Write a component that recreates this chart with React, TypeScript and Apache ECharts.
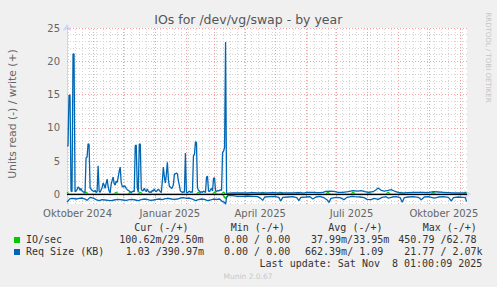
import React, { useEffect, useRef } from "react";
import * as echarts from "echarts";

const DAY = 86400000;
const X_MIN = Date.UTC(2024, 9, 5, 12);
const X_MAX = Date.UTC(2025, 10, 8, 1);
const Y_MIN = -1.45;
const Y_MAX = 25;

const yTickLabels = [0, 5, 10, 15, 20, 25];
const xLabelDates = ["2024-10-16", "2025-01-16", "2025-04-16", "2025-07-16", "2025-10-16"];
const xLabelTexts = ["Oktober 2024", "Januar 2025", "April 2025", "Juli 2025", "Oktober 2025"];

// [day offset from X_MIN, value]
const reqSizeWrite: [number, number][] = [
  [0, 7.3], [1, 7.3], [2, 14.9], [3, 14.9], [4, 0.5], [5, 0.4], [6, 21.1], [7, 21.1], [8, 0.4], [9, 0.5],
  [10, 0.7], [11, 1.1], [12, 1.0], [13, 0.6], [14, 0.9], [15, 0.5], [16, 0.4], [17, 0.3], [18, 0.4], [19, 5.5],
  [20, 5.6], [21, 7.6], [22, 7.5], [23, 1.0], [24, 0.8], [25, 0.6], [26, 0.5], [27, 0.4], [28, 0.6], [29, 0.3],
  [30, 0.4], [31, 4.3], [32, 0.5], [33, 0.3], [34, 0.7], [35, 1.0], [36, 1.7], [37, 1.4], [38, 0.9], [39, 1.7],
  [40, 2.3], [41, 1.1], [42, 0.5], [43, 0.2], [44, 1.5], [45, 2.1], [46, 2.6], [47, 1.6], [48, 1.4], [49, 2.0],
  [50, 1.8], [51, 2.6], [52, 3.4], [53, 4.1], [54, 1.8], [55, 1.2], [56, 1.1], [57, 1.3], [58, 1.2], [59, 0.9],
  [60, 0.7], [61, 0.6], [62, 0.5], [63, 0.4], [64, 0.3], [65, 0.4], [66, 0.5], [67, 0.4], [68, 7.3], [69, 7.4],
  [70, 1.0], [71, 0.3], [72, 7.5], [73, 7.6], [74, 0.8], [75, 0.5], [76, 0.6], [77, 0.9], [78, 0.6], [79, 0.4],
  [80, 0.8], [81, 0.5], [82, 0.3], [83, 0.4], [84, 0.3], [85, 0.6], [86, 0.5], [87, 0.8], [88, 0.5], [89, 0.4],
  [90, 0.6], [91, 0.8], [92, 0.6], [93, 0.4], [94, 0.3], [95, 2.0], [96, 4.1], [97, 2.6], [98, 1.7], [99, 3.0],
  [100, 4.8], [101, 2.3], [102, 1.2], [103, 1.1], [104, 0.9], [105, 1.0], [106, 1.5], [107, 3.0], [108, 3.1], [109, 3.2],
  [110, 3.1], [111, 2.0], [112, 1.3], [113, 0.5], [114, 0.4], [115, 0.3], [116, 0.4], [117, 0.3], [118, 6.2], [119, 0.3],
  [120, 0.2], [121, 0.4], [122, 0.5], [123, 0.3], [124, 0.4], [125, 0.3], [126, 5.8], [127, 6.0], [128, 7.9], [129, 7.8],
  [130, 1.0], [131, 0.6], [132, 0.5], [133, 0.3], [134, 0.4], [135, 0.3], [136, 0.5], [137, 0.4], [138, 0.3], [139, 2.6],
  [140, 2.7], [141, 0.5], [142, 0.4], [143, 0.7], [144, 0.9], [145, 0.5], [146, 2.4], [147, 2.5], [148, 0.5], [149, 0.4],
  [150, 0.6], [151, 0.5], [152, 0.6], [153, 0.7], [154, 0.6], [155, 6.3], [156, 6.5], [157, 7.0], [158, 22.9], [159, 0.15],
  [165, 0.2], [170, 0.2], [175, 0.2], [180, 0.2], [185, 0.25], [190, 0.2], [195, 0.2], [200, 0.2], [205, 0.25], [210, 0.2],
  [215, 0.2], [220, 0.2], [225, 0.2], [230, 0.25], [235, 0.2], [240, 0.3], [245, 0.3], [250, 0.25], [255, 0.3], [258, 0.45],
  [262, 0.5], [266, 0.45], [270, 0.3], [275, 0.3], [280, 0.4], [285, 0.55], [290, 0.5], [293, 0.55], [297, 0.4], [300, 0.3],
  [305, 0.4], [308, 0.7], [310, 0.95], [313, 0.6], [316, 0.5], [320, 0.6], [323, 0.7], [326, 0.5], [330, 0.3], [335, 0.2],
  [340, 0.25], [345, 0.3], [350, 0.3], [355, 0.3], [360, 0.25], [365, 0.4], [370, 0.35], [375, 0.3], [380, 0.25], [385, 0.2],
  [390, 0.2], [396, 0.2], [398, 0.2],
];

// read values (plotted below zero)
const reqSizeRead: [number, number][] = [
  [0, 1.15], [1, 1.0], [3, 0.65], [6, 0.6], [9, 0.7], [12, 0.6], [15, 0.55], [18, 0.7], [20, 0.9], [23, 0.45],
  [26, 0.55], [29, 0.8], [32, 0.95], [35, 0.8], [38, 0.85], [41, 0.9], [44, 0.95], [47, 0.85], [50, 0.75], [53, 0.8],
  [56, 0.85], [59, 0.9], [62, 0.8], [65, 0.75], [68, 0.85], [71, 0.95], [74, 0.8], [77, 0.7], [80, 0.75], [83, 0.9],
  [86, 0.85], [89, 0.75], [92, 0.7], [95, 0.8], [98, 0.65], [101, 0.6], [104, 0.7], [107, 0.75], [110, 0.7], [113, 0.55],
  [116, 0.5], [119, 0.6], [122, 0.55], [125, 0.7], [128, 0.95], [131, 0.8], [134, 0.7], [137, 0.75], [140, 0.95], [143, 0.85],
  [146, 0.7], [149, 0.75], [152, 0.7], [155, 1.1], [157, 1.2], [158, 1.5], [159, 0.5], [160, 0.2], [165, 0.2], [170, 0.3],
  [175, 0.3], [180, 0.25], [185, 0.3], [190, 0.35], [193, 0.6], [195, 0.9], [197, 0.4], [202, 0.35], [207, 0.3], [211, 0.45],
  [213, 1.0], [215, 0.45], [220, 0.4], [225, 0.35], [229, 0.5], [231, 0.95], [233, 0.45], [238, 0.4], [242, 0.35], [245, 0.7],
  [248, 0.4], [252, 0.3], [256, 0.5], [259, 0.8], [261, 1.2], [263, 0.6], [268, 0.45], [272, 0.5], [276, 0.8], [279, 0.45],
  [284, 0.3], [287, 0.35], [292, 0.4], [296, 0.5], [299, 0.75], [303, 0.8], [306, 0.6], [310, 0.75], [314, 0.45], [318, 0.35],
  [320, 0.55], [324, 0.4], [328, 0.35], [332, 0.5], [334, 1.2], [336, 0.5], [340, 0.4], [345, 0.35], [350, 0.45], [353, 0.8],
  [356, 0.4], [360, 0.35], [366, 0.55], [370, 0.4], [375, 0.35], [380, 0.45], [383, 1.0], [385, 0.5], [390, 0.4], [395, 0.45],
  [397, 0.5], [398, 1.1],
];

const ioWrite: [number, number][] = [
  [0, 0.3], [2, 0.03], [17, 0.03], [19, 0.3], [21, 0.03], [47, 0.03], [49, 0.3], [51, 0.03], [61, 0.03], [63, 0.3],
  [65, 0.03], [71, 0.03], [73, 0.3], [75, 0.03], [129, 0.03], [131, 0.3], [133, 0.03], [145, 0.03], [147, 0.3], [149, 0.03],
  [154, 0.03], [156, 0.3], [158, 0.03], [193, 0.03], [195, 0.3], [197, 0.03], [211, 0.03], [213, 0.3], [215, 0.03], [228, 0.03],
  [230, 0.3], [232, 0.03], [258, 0.03], [260, 0.3], [262, 0.03], [283, 0.03], [285, 0.3], [287, 0.03], [299, 0.03], [301, 0.3],
  [303, 0.03], [318, 0.03], [320, 0.3], [322, 0.03], [331, 0.03], [333, 0.3], [335, 0.03], [363, 0.03], [365, 0.3], [367, 0.03],
  [395, 0.03], [397, 0.3], [398, 0.03],
];

const ioRead: [number, number][] = [
  [0, 0.03], [155, 0.03], [157, 0.4], [158, 0.65], [159, 0.4], [161, 0.03], [398, 0.03],
];

const legendHeader = ["Cur (-/+)", "Min (-/+)", "Avg (-/+)", "Max (-/+)"];
const seriesNames = ["IO/sec", "Req Size (KB)"];
const ioStats = ["100.62m/29.50m", "0.00 / 0.00", "37.99m/33.95m", "450.79 /62.78"];
const reqStats = ["1.03 /390.97m", "0.00 / 0.00", "662.39m/ 1.09", "21.77 / 2.07k"];
const lastUpdate = "Last update: Sat Nov  8 01:00:09 2025";

const GREEN = "#00cc00";
const BLUE = "#0066b3";
const FONT = "#666666";
const AXIS = "#CFD6F8";
const MONO = '"DejaVu Sans Mono", monospace';
const SANS = '"DejaVu Sans", sans-serif';

const toTime = (pts: [number, number][], sign: number) =>
  pts.map(([d, v]) => [X_MIN + d * DAY, sign * v]);

function buildGridLines() {
  const items: any[] = [];
  const gray = { color: "#d4d4d4", type: [1, 2], width: 1 };
  const red = { color: "#f2a0a0", type: [1, 2], width: 1 };
  // weekly (Mondays)
  for (let t = Date.UTC(2024, 9, 7); t < X_MAX; t += 7 * DAY) {
    items.push({ xAxis: t, lineStyle: gray });
  }
  for (let v = -1; v <= 24; v++) {
    if (v % 5 !== 0) items.push({ yAxis: v, lineStyle: gray });
  }
  for (let m = 10; m <= 22; m++) {
    const t = Date.UTC(2024 + Math.floor(m / 12), m % 12, 1);
    items.push({ xAxis: t, lineStyle: red });
  }
  for (let v = 5; v <= 25; v += 5) items.push({ yAxis: v, lineStyle: red });
  return items;
}

function monthStarts() {
  const arr: number[] = [];
  for (let m = 10; m <= 22; m++) arr.push(Date.UTC(2024 + Math.floor(m / 12), m % 12, 1));
  return arr;
}

const labelTimes = xLabelDates.map((s) => Date.parse(s + "T00:00:00Z"));

function txt(x: number, y: number, text: string, extra: any = {}) {
  return {
    type: "text",
    x,
    y,
    silent: true,
    style: {
      text,
      font: `10px ${MONO}`,
      fill: "#333333",
      textAlign: "left",
      textVerticalAlign: "middle",
      ...extra,
    },
  };
}

export default function App() {
  const ref = useRef<HTMLDivElement>(null);
  useEffect(() => {
    document.body.style.margin = "0";
    const chart = echarts.init(ref.current!, null, { renderer: "svg" });
    const headerX = [134.3, 230.7, 328.3, 422.7];
    const ioX = [119.3, 224, 311, 398.3];
    const reqX = [125.7, 224, 305, 404.3];
    const option: any = {
      animation: false,
      backgroundColor: "#f0f0f0",
      grid: {
        left: 67,
        right: 30,
        top: 28,
        bottom: 83,
        show: true,
        backgroundColor: "#ffffff",
        borderWidth: 0,
      },
      xAxis: {
        type: "value",
        min: X_MIN,
        max: X_MAX,
        axisLine: {
          show: true,
          lineStyle: { color: AXIS, width: 1 },
          symbol: ["none", "arrow"],
          symbolSize: [7, 7],
          symbolOffset: [0, 4],
        },
        axisTick: {
          show: true,
          customValues: monthStarts(),
          length: 2,
          lineStyle: { color: "#f08080" },
        },
        axisLabel: {
          customValues: labelTimes,
          color: FONT,
          fontFamily: SANS,
          fontSize: 10,
          margin: 4,
          formatter: (v: number) => {
            let best = 0;
            labelTimes.forEach((t, i) => {
              if (Math.abs(t - v) < Math.abs(labelTimes[best] - v)) best = i;
            });
            return xLabelTexts[best];
          },
        },
        splitLine: { show: false },
      },
      yAxis: {
        type: "value",
        min: Y_MIN,
        max: Y_MAX,
        axisLine: {
          show: true,
          lineStyle: { color: AXIS, width: 1 },
          symbol: ["none", "arrow"],
          symbolSize: [7, 7],
          symbolOffset: [0, 4],
        },
        axisTick: { show: false },
        axisLabel: {
          customValues: yTickLabels,
          color: FONT,
          fontFamily: SANS,
          fontSize: 10,
          margin: 7,
        },
        splitLine: { show: false },
      },
      series: [
        {
          name: "grid",
          type: "line",
          data: [[X_MIN, 0]],
          symbol: "none",
          lineStyle: { opacity: 0 },
          silent: true,
          z: 1,
          markLine: {
            silent: true,
            z: 1,
            symbol: ["none", "none"],
            label: { show: false },
            emphasis: { disabled: true },
            data: buildGridLines(),
          },
        },
        {
          name: "IO/sec write",
          type: "line",
          data: toTime(ioWrite, 1),
          symbol: "none",
          lineStyle: { color: GREEN, width: 1.5 },
          z: 2,
        },
        {
          name: "IO/sec read",
          type: "line",
          data: toTime(ioRead, -1),
          symbol: "none",
          lineStyle: { color: GREEN, width: 1.5 },
          z: 2,
        },
        {
          name: "zero",
          type: "line",
          data: [[X_MIN, 0]],
          symbol: "none",
          lineStyle: { opacity: 0 },
          silent: true,
          z: 3,
          markLine: {
            silent: true,
            z: 3,
            symbol: ["none", "none"],
            label: { show: false },
            emphasis: { disabled: true },
            data: [{ yAxis: 0, lineStyle: { color: "#000000", type: "solid", width: 1 } }],
          },
        },
        {
          name: "Req Size write",
          type: "line",
          data: toTime(reqSizeWrite, 1),
          symbol: "none",
          lineStyle: { color: BLUE, width: 1.3 },
          z: 4,
        },
        {
          name: "Req Size read",
          type: "line",
          data: toTime(reqSizeRead, -1),
          symbol: "none",
          lineStyle: { color: BLUE, width: 1.3 },
          z: 4,
        },
      ],
      graphic: [
        {
          type: "text",
          x: 248.3,
          y: 19.5,
          silent: true,
          style: {
            text: "IOs for /dev/vg/swap - by year",
            font: `12.5px ${SANS}`,
            fill: "#555555",
            textAlign: "center",
            textVerticalAlign: "middle",
          },
        },
        {
          type: "text",
          x: 12.5,
          y: 114,
          rotation: Math.PI / 2,
          silent: true,
          style: {
            text: "Units read (-) / write (+)",
            font: `10.8px ${SANS}`,
            fill: FONT,
            textAlign: "center",
            textVerticalAlign: "middle",
          },
        },
        {
          type: "text",
          x: 488,
          y: 57.5,
          rotation: -Math.PI / 2,
          silent: true,
          style: {
            text: "RRDTOOL / TOBI OETIKER",
            font: `7px ${SANS}`,
            fill: "#c4c4c4",
            textAlign: "center",
            textVerticalAlign: "middle",
          },
        },
        ...legendHeader.map((h, i) => txt(headerX[i], 227.3, h)),
        { type: "rect", shape: { x: 14, y: 237, width: 6, height: 6 }, style: { fill: GREEN }, silent: true },
        { type: "rect", shape: { x: 14, y: 249, width: 6, height: 6 }, style: { fill: BLUE }, silent: true },
        txt(26, 239.7, seriesNames[0]),
        txt(26, 251.7, seriesNames[1]),
        ...ioStats.map((s, i) => txt(ioX[i], 239.7, s)),
        ...reqStats.map((s, i) => txt(reqX[i], 251.7, s)),
        txt(482.3, 263.7, lastUpdate, { textAlign: "right" }),
        {
          type: "text",
          x: 248,
          y: 276,
          silent: true,
          style: {
            text: "Munin 2.0.67",
            font: `7.5px ${SANS}`,
            fill: "#c8c8c8",
            textAlign: "center",
            textVerticalAlign: "middle",
          },
        },
      ],
    };
    chart.setOption(option);
    return () => chart.dispose();
  }, []);
  return <div ref={ref} style={{ width: 497, height: 287 }} />;
}
